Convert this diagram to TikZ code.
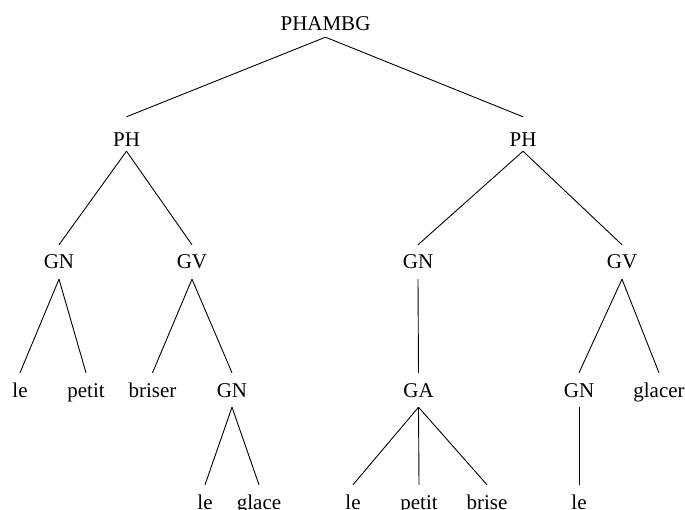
\documentclass[tikz,border=0pt]{standalone}
\usepackage{fontspec}
\setmainfont{Liberation Serif}
\begin{document}
\begin{tikzpicture}[x=1pt,y=-1pt,
  lbl/.style={anchor=base, inner xsep=0pt, inner ysep=10pt,
              text height=14pt, text depth=0pt,
              font=\fontsize{21}{25}\selectfont},
  edge/.style={line width=0.9pt}]
\useasboundingbox (0,0) rectangle (685,510);
% tree labels, placed on their baselines
\node[lbl] (root) at (325.5,31) {PHAMBG};
\node[lbl] (ph1) at (126.5,147) {PH};
\node[lbl] (ph2) at (523,147) {PH};
\node[lbl] (gn1) at (59,269) {GN};
\node[lbl] (gv1) at (192,269) {GV};
\node[lbl] (gn2) at (418,269) {GN};
\node[lbl] (gv2) at (622,269) {GV};
\node[lbl] (le1) at (20,397) {le};
\node[lbl] (petit1) at (86,397) {petit};
\node[lbl] (briser) at (152.5,397) {briser};
\node[lbl] (gn3) at (232,397) {GN};
\node[lbl] (ga) at (418.5,397) {GA};
\node[lbl] (gn4) at (579,397) {GN};
\node[lbl] (glacer) at (659,397) {glacer};
\node[lbl] (le2) at (205,509) {le};
\node[lbl] (glace) at (259,509) {glace};
\node[lbl] (le3) at (353,509) {le};
\node[lbl] (petit2) at (419,509) {petit};
\node[lbl] (brise) at (487,509) {brise};
\node[lbl] (le4) at (579,509) {le};
% branches
\draw[edge] ([yshift=4pt]root.south) -- ([yshift=6pt]ph1.north);
\draw[edge] ([yshift=4pt]root.south) -- ([yshift=6pt]ph2.north);
\draw[edge] ([yshift=6pt]ph1.south) -- (gn1.north);
\draw[edge] ([yshift=6pt]ph1.south) -- (gv1.north);
\draw[edge] ([yshift=6pt]ph2.south) -- (gn2.north);
\draw[edge] ([yshift=6pt]ph2.south) -- (gv2.north);
\draw[edge] (gn1.south) -- (le1.north);
\draw[edge] (gn1.south) -- (petit1.north);
\draw[edge] (gv1.south) -- (briser.north);
\draw[edge] (gv1.south) -- (gn3.north);
\draw[edge] (gn2.south) -- (ga.north);
\draw[edge] (gv2.south) -- (gn4.north);
\draw[edge] (gv2.south) -- (glacer.north);
\draw[edge] (gn3.south) -- (le2.north);
\draw[edge] (gn3.south) -- (glace.north);
\draw[edge] (ga.south) -- (le3.north);
\draw[edge] (ga.south) -- (petit2.north);
\draw[edge] (ga.south) -- (brise.north);
\draw[edge] (gn4.south) -- (le4.north);
\end{tikzpicture}
\end{document}
